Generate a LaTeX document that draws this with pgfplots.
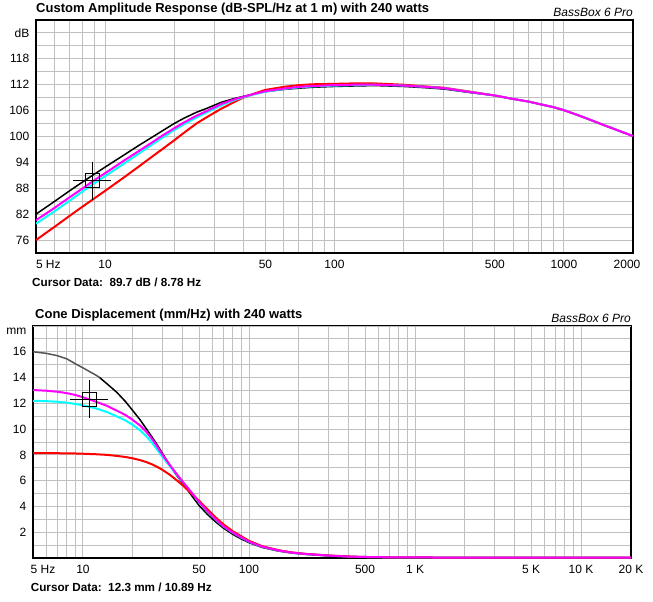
\documentclass[border=0pt]{standalone}
\usepackage{fontspec}
\setmainfont{Liberation Sans}
\usepackage{pgfplots}
\pgfplotsset{compat=1.18}
\definecolor{gridgray}{HTML}{C0C0C0}
\definecolor{dgray}{HTML}{555555}
\definecolor{mag}{HTML}{FF00FF}
\definecolor{cya}{HTML}{00FFFF}
\pgfdeclareplotmark{cursor}{%
  \pgfpathrectangle{\pgfpoint{-7pt}{-7pt}}{\pgfpoint{14pt}{14pt}}%
  \pgfpathmoveto{\pgfpoint{-19pt}{0pt}}\pgfpathlineto{\pgfpoint{19pt}{0pt}}%
  \pgfpathmoveto{\pgfpoint{0pt}{-19pt}}\pgfpathlineto{\pgfpoint{0pt}{19pt}}%
  \pgfusepathqstroke}
\pgfplotsset{
  bbstyle/.style={
    scale only axis,
    grid=both,
    major grid style={gridgray, line width=1pt},
    minor grid style={gridgray, line width=1pt},
    major tick length=0pt, minor tick length=0pt,
    axis line style={line width=2pt},
    tick label style={font=\fontsize{12}{14}\selectfont},
    xticklabel style={anchor=base, yshift=-15.3pt, inner sep=0pt},
    yticklabel style={anchor=east, inner sep=0pt, xshift=-6.5pt},
  }
}
\begin{document}
\begin{tikzpicture}[x=1pt,y=1pt]
\useasboundingbox (0,0) rectangle (653,-602);
% ---------------- top panel ----------------
\begin{axis}[xmode=log, bbstyle,
  at={(36pt,-20pt)}, anchor=north west,
  width=597pt, height=233pt,
  xmin=5, xmax=2000, ymin=73, ymax=127,
  xtick={5,10,50,100,500,1000,2000},
  xticklabels={\makebox[0pt][l]{5 Hz},10,50,100,500,1000,\hspace*{-12pt}2000},
  minor xtick={6,7,8,9,20,30,40,60,70,80,90,200,300,400,600,700,800,900},
  ytick={76,82,88,94,100,106,112,118,124},
  yticklabels={76,82,88,94,100,106,112,118,dB},
  minor ytick={73,79,85,91,97,103,109,115,121,127},
]
\addplot[black, line width=1.5pt] coordinates {
(5,82.0)(6,84.9)(7,87.4)(8,89.5)(9,91.3)(10,92.9)(12,95.6)(14,97.9)(16,99.8)(18,101.5)
(20,103.0)(22,104.2)(25,105.6)(28,106.6)(32,107.9)(36,108.7)(40,109.3)(45,109.9)(50,110.4)
(60,110.9)(70,111.2)(80,111.4)(100,111.6)(120,111.7)(150,111.8)(200,111.6)(250,111.3)(300,111.0)
(400,110.1)(500,109.5)(600,108.7)(700,108.1)(800,107.4)(900,106.8)(1000,106.1)(1200,104.6)(1500,102.6)(2000,100.1)};
\addplot[red, line width=2pt] coordinates {
(5,76.0)(6,79.0)(7,81.6)(8,83.8)(9,85.7)(10,87.4)(12,90.4)(14,93.0)(16,95.3)(18,97.3)
(20,99.1)(22,100.8)(25,103.0)(28,104.6)(32,106.4)(36,107.8)(40,109.0)(45,110.0)(50,110.8)
(60,111.5)(70,111.9)(80,112.1)(100,112.2)(120,112.3)(150,112.3)(200,112.0)(250,111.6)(300,111.3)
(400,110.3)(500,109.5)(600,108.7)(700,108.1)(800,107.4)(900,106.8)(1000,106.1)(1200,104.6)(1500,102.6)(2000,100.1)};
\addplot[cya, line width=2pt] coordinates {
(5,79.8)(6,82.6)(7,85.1)(8,87.3)(9,89.2)(10,90.8)(12,93.6)(14,96.0)(16,98.1)(18,99.9)
(20,101.5)(22,102.8)(25,104.4)(28,105.7)(32,107.2)(36,108.3)(40,109.1)(45,109.8)(50,110.4)
(60,111.0)(70,111.4)(80,111.6)(100,111.8)(120,111.9)(150,112.0)(200,111.8)(250,111.5)(300,111.2)
(400,110.2)(500,109.5)(600,108.7)(700,108.1)(800,107.4)(900,106.8)(1000,106.1)(1200,104.6)(1500,102.6)(2000,100.1)};
\addplot[mag, line width=2pt] coordinates {
(5,80.6)(6,83.4)(7,85.9)(8,88.0)(9,89.9)(10,91.5)(12,94.3)(14,96.6)(16,98.6)(18,100.4)
(20,101.9)(22,103.2)(25,104.8)(28,106.0)(32,107.5)(36,108.5)(40,109.2)(45,109.9)(50,110.5)
(60,111.1)(70,111.5)(80,111.7)(100,111.9)(120,112.0)(150,112.0)(200,111.8)(250,111.5)(300,111.2)
(400,110.2)(500,109.5)(600,108.7)(700,108.1)(800,107.4)(900,106.8)(1000,106.1)(1200,104.6)(1500,102.6)(2000,100.1)};
\addplot[only marks, mark=cursor, mark options={black, line width=1pt}] coordinates {(8.78,89.7)};
\end{axis}
% ---------------- bottom panel ----------------
\begin{axis}[xmode=log, bbstyle,
  at={(33pt,-326pt)}, anchor=north west,
  width=598pt, height=232pt,
  xmin=5, xmax=20000, ymin=0, ymax=18,
  xtick={5,10,50,100,500,1000,5000,10000,20000},
  xticklabels={\makebox[0pt][l]{\hspace*{-2.3pt}5 Hz},10,50,100,500,1 K,5 K,10 K,20 K},
  minor xtick={6,7,8,9,20,30,40,60,70,80,90,200,300,400,600,700,800,900,2000,3000,4000,6000,7000,8000,9000},
  ytick={2,4,6,8,10,12,14,16},
  yticklabels={2,4,6,8,10,12,14,16},
  minor ytick={1,3,5,7,9,11,13,15,17},
  extra y ticks={18}, extra y tick labels={mm},
  extra y tick style={yticklabel style={yshift=-5.7pt}},
]
\addplot[dgray, line width=1.5pt] coordinates {
(5,16.0)(6,15.88)(7,15.7)(8,15.45)(9,15.07)(10,14.75)(11,14.45)(12,14.18)(12.6,14.0)};
\addplot[black, line width=1.5pt] coordinates {
(12.6,14.0)(13,13.85)(14,13.5)(16,12.85)(18,12.15)(20,11.42)(22,10.75)(24,10.05)(26,9.4)(28,8.78)
(30,8.15)(33,7.3)(36,6.55)(40,5.78)(45,4.87)(50,4.08)(56,3.4)(63,2.8)(70,2.33)(80,1.83)
(90,1.47)(100,1.19)(120,0.82)(150,0.54)(180,0.39)(220,0.28)(300,0.17)(400,0.1)(500,0.07)
(700,0.04)(1000,0.03)(20000,0.02)};
\addplot[cya, line width=2pt] coordinates {
(5,12.2)(6,12.17)(7,12.12)(8,12.05)(9,11.95)(10,11.85)(11,11.72)(12,11.6)(14,11.32)(16,10.98)
(18,10.68)(20,10.32)(22,9.92)(24,9.47)(26,8.95)(28,8.4)(30,7.88)(33,7.2)(36,6.6)(40,5.88)
(45,5.07)(50,4.32)(56,3.62)(63,2.97)(70,2.46)(80,1.95)(90,1.58)(100,1.26)(120,0.87)
(150,0.58)(180,0.42)(220,0.31)(300,0.19)(400,0.11)(500,0.08)(700,0.05)(1000,0.04)(20000,0.03)};
\addplot[red, line width=2pt] coordinates {
(5,8.13)(6,8.13)(7,8.13)(8,8.12)(9,8.11)(10,8.09)(12,8.05)(14,8.0)(16,7.92)(18,7.84)
(20,7.73)(22,7.6)(24,7.45)(26,7.27)(28,7.07)(30,6.85)(33,6.5)(36,6.12)(40,5.63)(45,5.0)
(50,4.45)(56,3.8)(63,3.15)(70,2.62)(80,2.07)(90,1.68)(100,1.33)(120,0.92)(150,0.61)
(180,0.44)(220,0.32)(300,0.2)(400,0.12)(500,0.08)(700,0.05)(1000,0.04)(20000,0.03)};
\addplot[mag, line width=2pt] coordinates {
(5,13.03)(6,12.98)(7,12.9)(8,12.79)(9,12.65)(10,12.47)(11,12.3)(12,12.12)(14,11.8)(16,11.43)
(18,11.1)(20,10.7)(22,10.3)(24,9.82)(26,9.25)(28,8.65)(30,8.05)(33,7.3)(36,6.65)(40,5.9)
(45,5.1)(50,4.35)(56,3.65)(63,3.0)(70,2.48)(80,1.97)(90,1.6)(100,1.27)(120,0.88)
(150,0.59)(180,0.42)(220,0.31)(300,0.19)(400,0.11)(500,0.08)(700,0.05)(1000,0.04)(20000,0.03)};
\addplot[only marks, mark=cursor, mark options={black, line width=1pt}] coordinates {(10.89,12.3)};
\end{axis}
% ---------------- texts ----------------
\node[anchor=base west, inner sep=0pt, font=\fontsize{13}{15}\selectfont\bfseries] at (36,-12.3) {Custom Amplitude Response (dB-SPL/Hz at 1 m) with 240 watts};
\node[anchor=base east, inner sep=0pt, font=\fontsize{12}{14}\selectfont\itshape] at (633,-16.5) {BassBox 6 Pro};
\node[anchor=base west, inner sep=0pt, font=\fontsize{11.7}{14}\selectfont\bfseries] at (32,-286.6) {Cursor Data:\ \ 89.7 dB / 8.78 Hz};
\node[anchor=base west, inner sep=0pt, font=\fontsize{13}{15}\selectfont\bfseries] at (35,-318) {Cone Displacement (mm/Hz) with 240 watts};
\node[anchor=base east, inner sep=0pt, font=\fontsize{12}{14}\selectfont\itshape] at (631,-322.2) {BassBox 6 Pro};
\node[anchor=base west, inner sep=0pt, font=\fontsize{11.7}{14}\selectfont\bfseries] at (30.7,-591.7) {Cursor Data:\ \ 12.3 mm / 10.89 Hz};
\end{tikzpicture}
\end{document}
